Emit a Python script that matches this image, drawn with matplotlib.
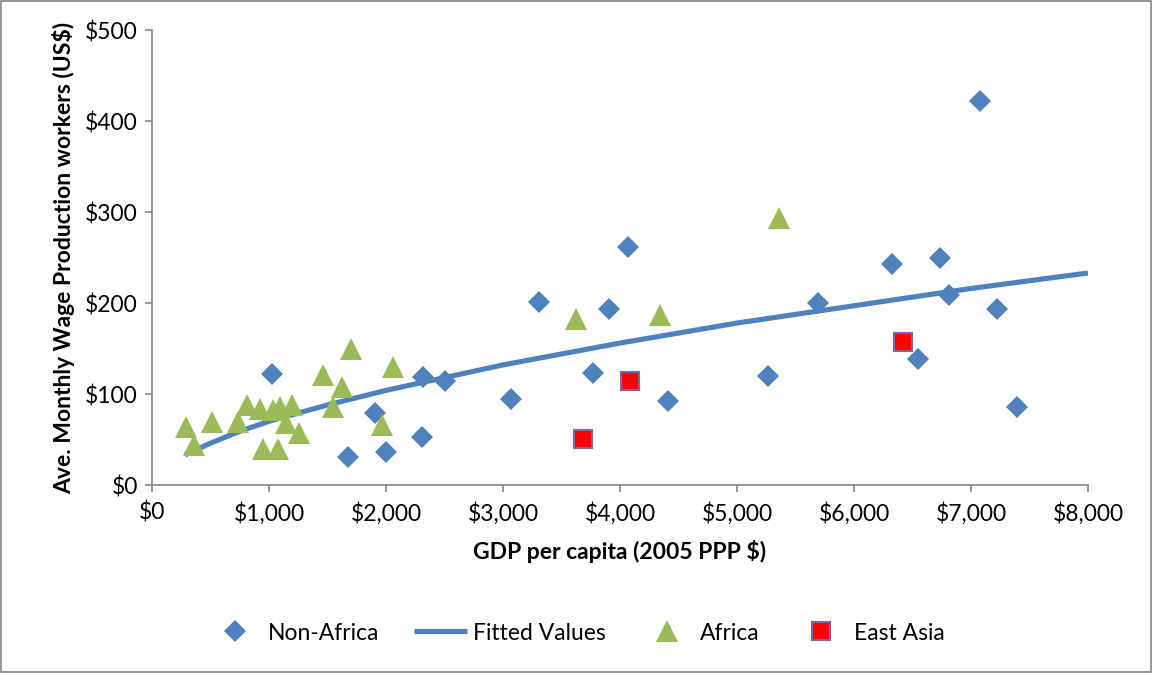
import matplotlib.pyplot as plt
from matplotlib.ticker import FuncFormatter
from matplotlib.patches import Rectangle

plt.rcParams['font.family'] = ['Lato', 'DejaVu Sans']

# Non-Africa countries
non_africa_gdp = [1026, 2316, 2504, 1906, 1675, 2000, 2308, 4068, 3308, 3906,
                  5692, 3769, 3068, 4410, 5265, 7077, 6325, 6735, 6812, 7222,
                  6547, 7393]
non_africa_wage = [122, 119, 114, 79, 31, 36, 53, 262, 201, 193,
                   200, 123, 94, 92, 120, 422, 243, 249, 209, 193,
                   138, 86]

# Africa
africa_gdp = [291, 359, 513, 735, 812, 923, 1034, 1094, 1197, 1145, 1256,
              949, 1077, 1701, 1462, 1624, 1547, 2060, 1966, 3624, 4342, 5359]
africa_wage = [64, 44, 69, 69, 88, 83, 82, 86, 88, 68, 57,
               40, 40, 149, 121, 108, 86, 130, 66, 182, 187, 293]

# East Asia
east_asia_gdp = [3684, 4085, 6419]
east_asia_wage = [51, 114, 157]

# fitted curve
fit_gdp = [282, 500, 750, 1000, 1250, 1500, 2000, 2500, 3000, 3500, 4000,
           5000, 6000, 7000, 8000]
fit_wage = [33, 46, 59, 70, 79, 88, 104, 118, 132, 144, 156,
            178, 197, 216, 233]

fig = plt.figure(figsize=(11.53, 6.73), dpi=100)
ax = fig.add_axes([0.1318, 0.2793, 0.8118, 0.6761])

line, = ax.plot(fit_gdp, fit_wage, color='#4F81BD', linewidth=3.7,
                solid_capstyle='butt', zorder=2, label='Fitted Values')
dia, = ax.plot(non_africa_gdp, non_africa_wage, 'D', color='#4F81BD',
               markersize=11.5, markeredgewidth=0, zorder=3, label='Non-Africa')
tri, = ax.plot(africa_gdp, africa_wage, '^', color='#9BBB59',
               markersize=15.5, markeredgewidth=0, zorder=4, label='Africa')
sq, = ax.plot(east_asia_gdp, east_asia_wage, 's', color='#FF0000',
              markeredgecolor='#8064A2', markeredgewidth=1.5,
              markersize=13, zorder=5, label='East Asia')

ax.set_xlim(0, 8000)
ax.set_ylim(0, 500)
ax.set_xticks(range(0, 8001, 1000))
ax.set_yticks(range(0, 501, 100))
ax.xaxis.set_major_formatter(FuncFormatter(lambda v, p: '${:,.0f}'.format(v)))
ax.yaxis.set_major_formatter(FuncFormatter(lambda v, p: '${:,.0f}'.format(v)))

for s in ['top', 'right']:
    ax.spines[s].set_visible(False)
for s in ['left', 'bottom']:
    ax.spines[s].set_color('#868686')
    ax.spines[s].set_linewidth(1.2)
ax.tick_params(axis='both', colors='#868686', labelcolor='black',
               labelsize=16.5, length=5, width=1.2, direction='out')
ax.tick_params(axis='x', pad=7)
ax.tick_params(axis='y', pad=5)

ax.set_xlabel('GDP per capita (2005 PPP $)', fontsize=16.5, fontweight='bold',
              labelpad=11)
ax.set_ylabel('Ave. Monthly Wage Production workers (US$)', fontsize=16.5,
              fontweight='bold', labelpad=7)

fig.legend(handles=[dia, line, tri, sq], loc='center',
           bbox_to_anchor=(0.5, 1 - 633 / 673), ncol=4, frameon=False,
           fontsize=16.5, handlelength=2.3, columnspacing=1.5, handletextpad=0.3)

fig.patches.append(Rectangle((0.001, 0.002), 0.997, 0.996, transform=fig.transFigure,
                             fill=False, edgecolor='#868686', linewidth=1.2))

fig.savefig('out.png', dpi=100)
